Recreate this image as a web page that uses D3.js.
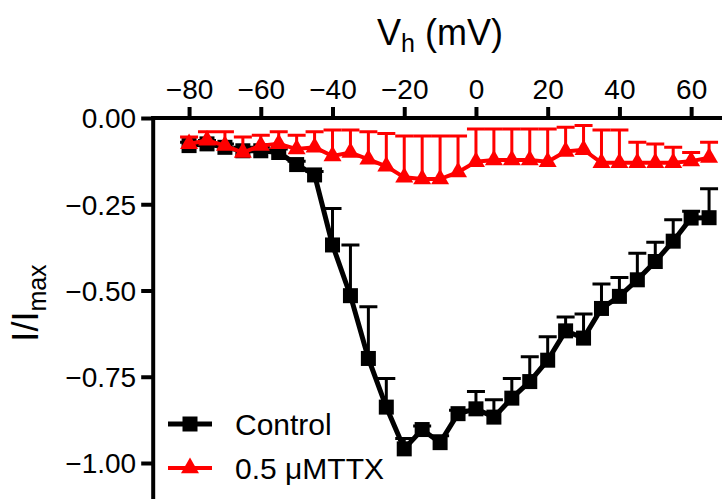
<!DOCTYPE html>
<html><head><meta charset="utf-8">
<script src="https://cdn.jsdelivr.net/npm/d3@7"></script>
<style>body{margin:0;background:#fff}svg{display:block}text{font-family:"Liberation Sans",Arial,sans-serif}</style>
</head><body>
<svg id="c" width="722" height="499"></svg>
<script>
const voltages = [-80,-75,-70,-65,-60,-55,-50,-45,-40,-35,-30,-25,-20,-15,-10,-5,0,5,10,15,20,25,30,35,40,45,50,55,60,65];
const controlMean = [-0.08,-0.075,-0.085,-0.095,-0.095,-0.10,-0.135,-0.165,-0.368,-0.515,-0.697,-0.838,-0.959,-0.903,-0.941,-0.857,-0.843,-0.867,-0.812,-0.764,-0.702,-0.617,-0.638,-0.552,-0.517,-0.469,-0.416,-0.357,-0.29,-0.289];
const controlSem  = [0.01,0.01,0.01,0.01,0.01,0.01,0.01,0.01,0.106,0.147,0.15,0.083,0.03,0.01,0.02,0.01,0.05,0.05,0.057,0.072,0.068,0.04,0.07,0.071,0.055,0.077,0.056,0.062,0.02,0.084];
const ttxMean = [-0.075,-0.065,-0.08,-0.10,-0.08,-0.075,-0.09,-0.085,-0.11,-0.10,-0.12,-0.14,-0.172,-0.177,-0.177,-0.157,-0.127,-0.122,-0.122,-0.122,-0.127,-0.097,-0.092,-0.13,-0.13,-0.13,-0.13,-0.13,-0.125,-0.115];
const ttxSem  = [0.02,0.025,0.04,0.045,0.03,0.035,0.04,0.045,0.075,0.065,0.08,0.095,0.12,0.125,0.125,0.105,0.095,0.09,0.09,0.09,0.095,0.07,0.07,0.095,0.095,0.06,0.055,0.045,0.025,0.045];
const xTicks = [-80,-60,-40,-20,0,20,40,60];
const yTicks = [0,-0.25,-0.5,-0.75,-1.0];
const seriesNames = ["Control","0.5 μMTTX"];
const seriesColors = ["#000000","#ff0000"];

const svg = d3.select("#c");
const x = d3.scaleLinear().domain([-90,70]).range([153.2,727]);
const y = d3.scaleLinear().domain([0,-1.1]).range([118,497.5]);

// axes
const xAxis = svg.append("g").attr("transform","translate(0,118)")
  .call(d3.axisTop(x).tickValues(xTicks).tickSize(11).tickPadding(8).tickFormat(d3.format("d")));
const yAxis = svg.append("g").attr("transform","translate(153.2,0)")
  .call(d3.axisLeft(y).tickValues(yTicks).tickSize(12).tickPadding(5).tickFormat(d3.format(".2f")));
[xAxis,yAxis].forEach(a=>{
  a.select(".domain").attr("stroke","#000").attr("stroke-width",4);
  a.selectAll(".tick line").attr("stroke","#000").attr("stroke-width",4);
  a.selectAll(".tick text").attr("fill","#000").style("font-size","28px").style("font-family","Liberation Sans, Arial, sans-serif");
});
yAxis.select(".domain").attr("d",`M0,116V499`);
xAxis.select(".domain").attr("d",`M151.2,0H722`);
yAxis.selectAll(".tick text").attr("dy","0.35em");

// titles
const t = svg.append("text").attr("x",440).attr("y",45).attr("text-anchor","middle").style("font-size","36px");
t.append("tspan").text("V");
t.append("tspan").text("h").attr("dy",7).style("font-size","25px");
t.append("tspan").text(" (mV)").attr("dy",-7);
const yl = svg.append("text").attr("transform","translate(38,303) rotate(-90)").attr("text-anchor","middle").style("font-size","36px");
yl.append("tspan").text("I/I");
yl.append("tspan").text("max").attr("dy",8).style("font-size","25px");

const tri = d3.symbol().type(d3.symbolTriangle).size(140);
function drawSeries(mean, sem, color, kind){
  const g = svg.append("g");
  const data = voltages.map((v,i)=>({v, m:mean[i], s:sem[i]}));
  // error bars (upward only)
  g.selectAll(".eb").data(data).enter().append("path")
    .attr("d",d=>`M${x(d.v)},${y(d.m)}V${y(d.m+d.s)}M${x(d.v)-9},${y(d.m+d.s)}H${x(d.v)+9}`)
    .attr("stroke",color).attr("stroke-width",3).attr("fill","none");
  g.append("path").datum(data)
    .attr("d",d3.line().x(d=>x(d.v)).y(d=>y(d.m)))
    .attr("stroke",color).attr("stroke-width",kind==="sq"?5:4).attr("fill","none");
  if(kind==="sq"){
    g.selectAll(".mk").data(data).enter().append("rect")
      .attr("x",d=>x(d.v)-7.5).attr("y",d=>y(d.m)-7.5).attr("width",15).attr("height",15).attr("fill",color);
  } else {
    g.selectAll(".mk").data(data).enter().append("path")
      .attr("d",tri).attr("transform",d=>`translate(${x(d.v)},${y(d.m)})`).attr("fill",color);
  }
}
drawSeries(controlMean, controlSem, seriesColors[0], "sq");
drawSeries(ttxMean, ttxSem, seriesColors[1], "tri");

// legend
const lg = svg.append("g");
[0,1].forEach(i=>{
  const yy = 424 + i*44;
  lg.append("line").attr("x1",168).attr("x2",212).attr("y1",yy).attr("y2",yy)
    .attr("stroke",seriesColors[i]).attr("stroke-width",i===0?5:4);
  if(i===0) lg.append("rect").attr("x",190-7.5).attr("y",yy-7.5).attr("width",15).attr("height",15).attr("fill",seriesColors[i]);
  else lg.append("path").attr("d",tri).attr("transform",`translate(190,${yy})`).attr("fill",seriesColors[i]);
  lg.append("text").attr("x",235).attr("y",yy+11).style("font-size","30px").text(seriesNames[i]);
});
</script>
</body></html>
